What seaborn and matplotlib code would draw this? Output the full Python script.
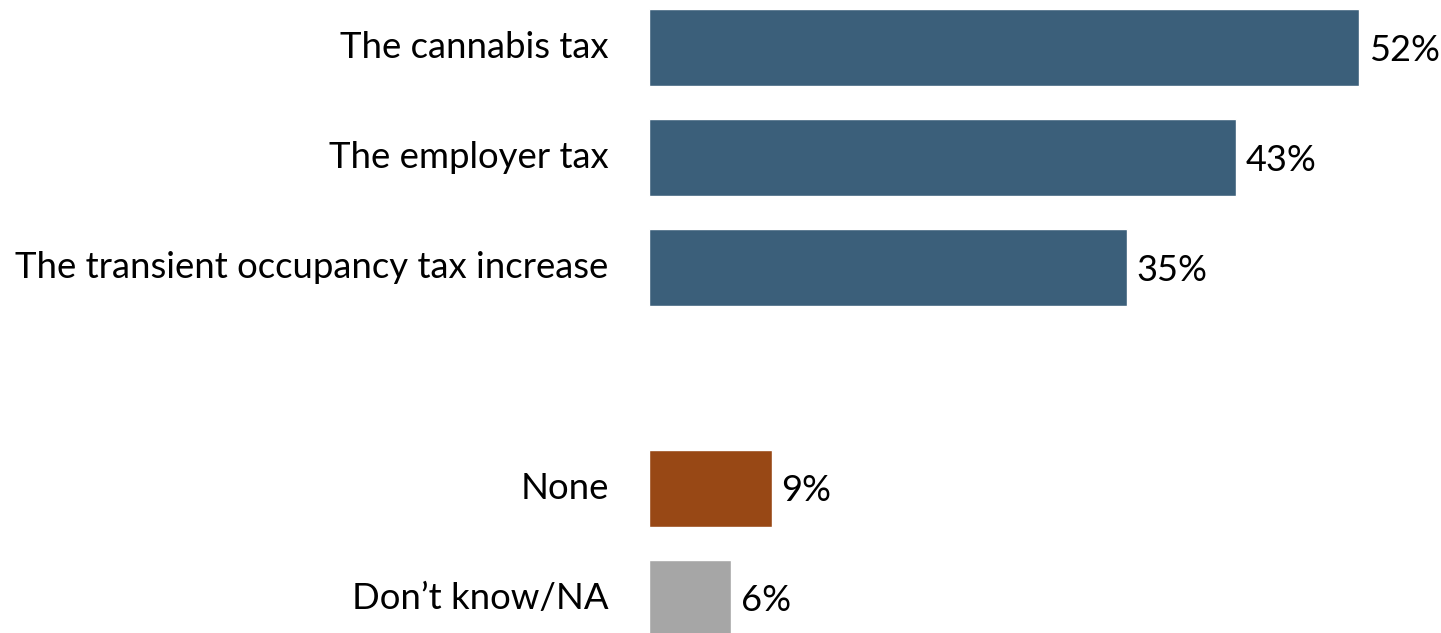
import numpy as np
import pandas as pd
import matplotlib
matplotlib.use("Agg")
import matplotlib.pyplot as plt
import seaborn as sns

categories = ["The cannabis tax", "The employer tax", "The transient occupancy tax increase",
              " ", "None", "Don\u2019t know/NA"]
values = [52, 43, 35, np.nan, 9, 6]
value_labels = ["52%", "43%", "35%", "", "9%", "6%"]
colors = ["#3B5F7A", "#3B5F7A", "#3B5F7A", "#FFFFFF", "#984815", "#A6A6A6"]

sns.set_theme(style="white")
plt.rcParams['font.family'] = ['Lato', 'DejaVu Sans']

df = pd.DataFrame({"cat": categories, "val": values})

fig = plt.figure(figsize=(14.41, 6.33), dpi=100)
ax = fig.add_axes([649 / 1441, 0, 1 - 649 / 1441, 1])

sns.barplot(data=df, x="val", y="cat", hue="cat", order=categories, hue_order=categories,
            palette=dict(zip(categories, colors)), orient="h", width=0.70,
            legend=False, ax=ax, saturation=1)

ax.set_xlim(0, 58.0)
ax.set_ylim(5.318, -0.436)
for s in ax.spines.values():
    s.set_visible(False)
ax.set_xticks([])
ax.set_xlabel("")
ax.set_ylabel("")
ax.tick_params(axis="y", length=0, pad=29, labelsize=26.3, labelcolor="black")
for t in ax.get_yticklabels():
    t.set_verticalalignment("center")

for i, (v, lab) in enumerate(zip(values, value_labels)):
    if lab:
        ax.annotate(lab, xy=(v, i), xytext=(7, -2), textcoords="offset points",
                    ha="left", va="center", fontsize=26, color="black")

fig.savefig("out.png", dpi=100)
